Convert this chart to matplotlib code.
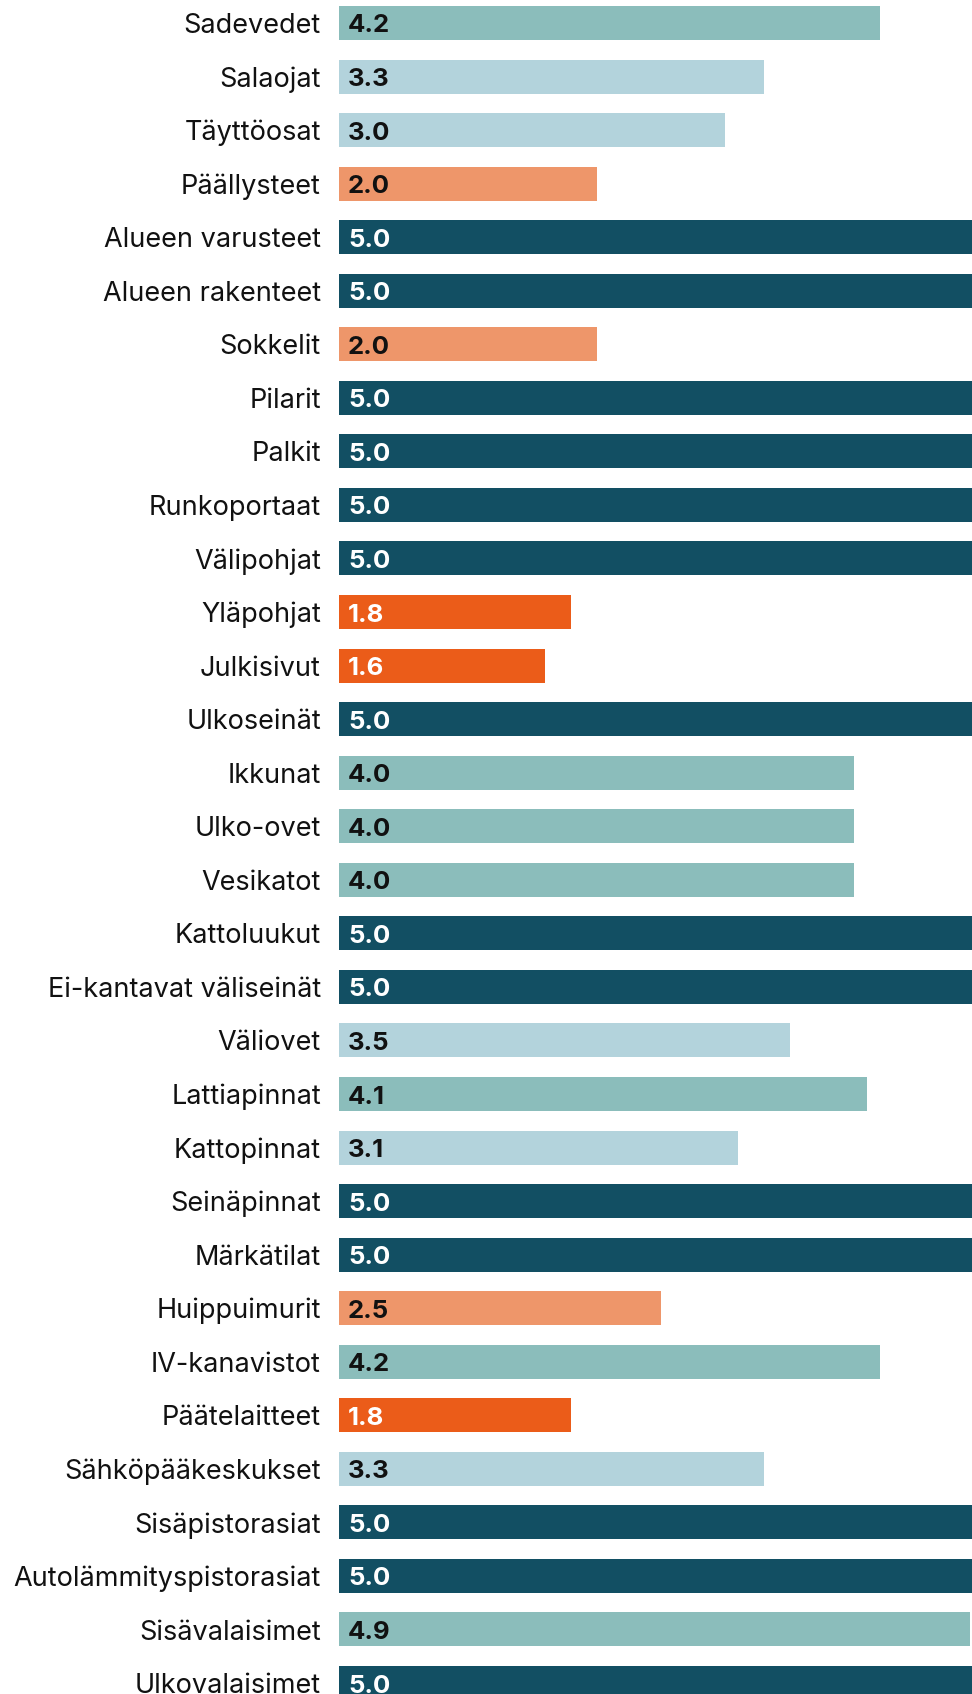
import matplotlib
matplotlib.use("Agg")
import matplotlib.pyplot as plt

categories = [
    "Sadevedet", "Salaojat", "Täyttöosat", "Päällysteet", "Alueen varusteet",
    "Alueen rakenteet", "Sokkelit", "Pilarit", "Palkit", "Runkoportaat",
    "Välipohjat", "Yläpohjat", "Julkisivut", "Ulkoseinät", "Ikkunat",
    "Ulko-ovet", "Vesikatot", "Kattoluukut", "Ei-kantavat väliseinät", "Väliovet",
    "Lattiapinnat", "Kattopinnat", "Seinäpinnat", "Märkätilat", "Huippuimurit",
    "IV-kanavistot", "Päätelaitteet", "Sähköpääkeskukset", "Sisäpistorasiat",
    "Autolämmityspistorasiat", "Sisävalaisimet", "Ulkovalaisimet",
]
scores = [
    4.2, 3.3, 3.0, 2.0, 5.0,
    5.0, 2.0, 5.0, 5.0, 5.0,
    5.0, 1.8, 1.6, 5.0, 4.0,
    4.0, 4.0, 5.0, 5.0, 3.5,
    4.1, 3.1, 5.0, 5.0, 2.5,
    4.2, 1.8, 3.3, 5.0,
    5.0, 4.9, 5.0,
]


def bar_style(v):
    # (fill, text colour) by condition class
    if v >= 5.0:
        return "#124f63", "white"
    if v >= 4.0:
        return "#8bbdbb", "#111111"
    if v >= 3.0:
        return "#b3d3dc", "#111111"
    if v >= 2.0:
        return "#ee966a", "#111111"
    return "#eb5c19", "white"


plt.rcParams["font.family"] = ["Inter", "DejaVu Sans"]

W, H, DPI = 972, 1694, 100
fig = plt.figure(figsize=(W / DPI, H / DPI), dpi=DPI)
left_px = 339
ax = fig.add_axes([left_px / W, 0, 1 - left_px / W, 1])

px_per_unit = 128.8
row_px = 53.55
first_center = 23
bar_px = 34

ypos = list(range(len(categories)))
colors = [bar_style(v)[0] for v in scores]
ax.barh(ypos, scores, height=bar_px / row_px, color=colors, align="center")

ax.set_xlim(0, (W - left_px) / px_per_unit)
ax.set_ylim((H - first_center) / row_px, -first_center / row_px)

ax.set_yticks(ypos)
ax.set_yticklabels(categories, fontsize=19.5, color="#111111")
ax.tick_params(axis="y", length=0, pad=13)
ax.set_xticks([])
for s in ax.spines.values():
    s.set_visible(False)

for y, v in zip(ypos, scores):
    ax.annotate(f"{v:.1f}", xy=(0, y), xytext=(9, -3), textcoords="offset pixels",
                ha="left", va="center", fontsize=18.5, fontweight="bold",
                color=bar_style(v)[1])

fig.savefig("out.png", dpi=DPI)
